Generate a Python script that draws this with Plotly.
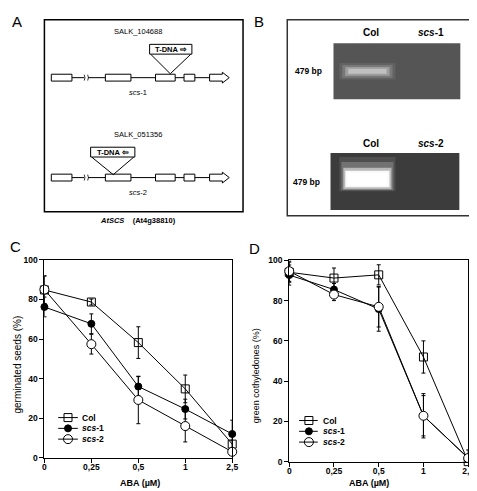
import plotly.graph_objects as go

W, H = 477, 491
FONT = "Liberation Sans, Arial, sans-serif"

# ---------------- data ----------------
aba_labels = ["0", "0,25", "0,5", "1", "2,5"]
aba_pos = [0, 1, 2, 3, 4]

germ_col = [84.8, 78.7, 58.2, 34.8, 6.9]
germ_col_err = [7, 1.5, 8, 7, 2]
germ_scs1 = [76.2, 67.7, 36.0, 24.6, 12.0]
germ_scs1_err = [5, 5, 5, 5, 7]
germ_scs2 = [85.0, 57.4, 29.2, 16.0, 3.0]
germ_scs2_err = [7, 5, 12, 8, 1]

green_col = [94.1, 91.2, 92.8, 52.0, 0.0]
green_col_err = [5, 5, 5, 8, 1]
green_scs1 = [92.7, 85.5, 75.8, 22.8, 1.8]
green_scs1_err = [5, 3, 11, 10, 4]
green_scs2 = [94.6, 83.0, 76.9, 22.8, 1.8]
green_scs2_err = [5, 3, 10, 11, 1]

series_names = ["Col", "<i>scs</i>-1", "<i>scs</i>-2"]
y_ticks = [0, 20, 40, 60, 80, 100]

# gene model (schematic, pixel units of the drawing layer)
exon_starts = [42, 97, 148, 177]
exon_ends = [63, 123, 168, 188]
last_exon = [203, 216, 223]
gene_rows_y = [66, 168]
tdna_boxes = [(142, 185, 32, 42, 163, 62, "T-DNA ⇨"), (82, 127, 137, 147, 105, 165, "T-DNA ⇦")]
salk_labels = ["SALK_104688", "SALK_051356"]
allele_labels = ["<i>scs</i>-1", "<i>scs</i>-2"]

styles = [
    dict(symbol="square-open", size=8, color="black", line=dict(width=1, color="black")),
    dict(symbol="circle", size=7, color="black", line=dict(width=1, color="black")),
    dict(symbol="circle", size=9, color="white", line=dict(width=1, color="black")),
]


def px(x):
    return x / W


def py(y):
    return 1 - y / H


fig = go.Figure()

# ---------------- panel C & D traces ----------------
panels = [
    ("x", "y", [germ_col, germ_scs1, germ_scs2], [germ_col_err, germ_scs1_err, germ_scs2_err]),
    ("x2", "y2", [green_col, green_scs1, green_scs2], [green_col_err, green_scs1_err, green_scs2_err]),
]
for xa, ya, vals, errs in panels:
    for i in range(3):
        fig.add_trace(go.Scatter(
            x=aba_pos, y=vals[i], xaxis=xa, yaxis=ya, mode="lines+markers",
            line=dict(color="black", width=1), marker=styles[i],
            error_y=dict(type="data", array=errs[i], color="black", thickness=1, width=2),
            showlegend=False, cliponaxis=False, name=series_names[i],
        ))

tickfont = dict(family=FONT, size=8.5, color="black")
ax_common = dict(showgrid=False, zeroline=False, showline=True, linecolor="black", linewidth=1,
                 mirror=True, ticks="outside", ticklen=4, tickwidth=1, tickcolor="black",
                 tickfont=tickfont)
fig.update_layout(
    xaxis=dict(domain=[px(35), px(226)], range=[0, 4], anchor="y", tickvals=aba_pos,
               ticktext=["<b>%s</b>" % t for t in aba_labels], ticklabelstandoff=-3, **ax_common),
    yaxis=dict(domain=[py(454), py(252)], range=[0, 100], anchor="x", tickvals=y_ticks,
               ticktext=["<b>%d</b>" % t for t in y_ticks], **ax_common),
    xaxis2=dict(domain=[px(284), px(466)], range=[0, 4], anchor="y2", tickvals=aba_pos,
                ticktext=["<b>%s</b>" % t for t in aba_labels], ticklabelstandoff=-3, **ax_common),
    yaxis2=dict(domain=[py(458), py(252.5)], range=[0, 100], anchor="x2", tickvals=y_ticks,
                ticktext=["<b>%d</b>" % t for t in y_ticks], **ax_common),
    xaxis3=dict(domain=[0, 1], range=[0, W], anchor="y3", visible=False, fixedrange=True),
    yaxis3=dict(domain=[0, 1], range=[H, 0], anchor="x3", visible=False, fixedrange=True),
)

shapes = []
ann = []


def text(x, y, t, size=8, xanchor="center", angle=0, color="black"):
    ann.append(dict(x=x, y=y, xref="x3", yref="y3", text=t, showarrow=False, xanchor=xanchor,
                    yanchor="middle", textangle=angle,
                    font=dict(family=FONT, size=size, color=color)))


def rect(x0, y0, x1, y1, fill="white", lc="black", lw=1):
    shapes.append(dict(type="rect", xref="x3", yref="y3", x0=x0, y0=y0, x1=x1, y1=y1,
                       fillcolor=fill, line=dict(color=lc, width=lw)))


def path(p, lc="black", lw=1, fill=None):
    d = dict(type="path", xref="x3", yref="y3", path=p, line=dict(color=lc, width=lw))
    if fill:
        d["fillcolor"] = fill
    shapes.append(d)


# ---------------- legends (manual) ----------------
legend_defs = [(49, 69, 59, 71, [413, 424, 435]), (294, 313, 304, 316, [416, 427, 438])]
for lx0, lx1, lxm, ltx, lys in legend_defs:
    for i in range(3):
        path("M %g,%g L %g,%g" % (lx0, lys[i], lx1, lys[i]))
        fig.add_trace(go.Scatter(x=[lxm], y=[lys[i]], xaxis="x3", yaxis="y3", mode="markers",
                                 marker=styles[i], showlegend=False, cliponaxis=False))
        text(ltx, lys[i], "<b>%s</b>" % series_names[i], size=8.5, xanchor="left")

# axis titles
text(8, 359, "germinated seeds (%)", size=10, angle=-90)
text(251, 370, "green cothyledones (%)", size=9, angle=-90)
text(132, 480, "<b>ABA (µM)</b>", size=9)
text(365, 480, "<b>ABA (µM)</b>", size=9)

# panel letters
text(7, 9, "A", size=15)
text(253, 9, "B", size=15)
text(6, 238, "C", size=15)
text(249, 240, "D", size=15)

# ---------------- panel A: gene schematic ----------------
rect(35, 7, 237, 203, fill="white", lc="black", lw=1.5)
for r, gy in enumerate(gene_rows_y):
    path("M %g,%g L %g,%g" % (exon_ends[0], gy, last_exon[0], gy))
    # intron break symbol
    rect(75.5, gy - 3, 79.5, gy + 3, fill="white", lc="white", lw=0)
    path("M 75.5,%g Q 77,%g 75.5,%g" % (gy - 3, gy, gy + 3), lw=0.8)
    path("M 79,%g Q 80.5,%g 79,%g" % (gy - 3, gy, gy + 3), lw=0.8)
    for s, e in zip(exon_starts, exon_ends):
        rect(s, gy - 3.5, e, gy + 3.5)
    a0, a1, a2 = last_exon
    path("M %g,%g L %g,%g L %g,%g L %g,%g L %g,%g L %g,%g L %g,%g Z" % (
        a0, gy - 3.5, a1, gy - 3.5, a1, gy - 5.5, a2, gy, a1, gy + 5.5, a1, gy + 3.5, a0, gy + 3.5),
        fill="white")
    bx0, bx1, by0, by1, tx, ty, lab = tdna_boxes[r]
    path("M %g,%g L %g,%g L %g,%g" % (bx0 + 1, by1, tx, ty, bx1 - 1, by1))
    rect(bx0, by0, bx1, by1)
    text((bx0 + bx1) / 2, (by0 + by1) / 2 + 0.5, "<b>%s</b>" % lab, size=7.5)
    text(130, by0 - 13, salk_labels[r], size=7.5)
    text(130, gy + 15, allele_labels[r], size=7.5)
text(130, 212, "<b><i>AtSCS</i></b>    <b>(At4g38810)</b>", size=7.5)

# ---------------- panel B: gel ----------------
rect(282, 7, 475, 207, fill="white", lc="#333333", lw=1.5)
rect(329, 31, 458, 88, fill="#555555", lc="#555555", lw=0)
rect(326, 143, 457, 201, fill="#3c3c3c", lc="#3c3c3c", lw=0)
# band 1 (faint)
for (x0, y0, x1, y1, a) in [(335, 51, 392, 68, 0.08), (338, 53, 389, 66, 0.15),
                            (341, 55, 386, 64, 0.28), (344, 57, 383, 62, 0.35)]:
    rect(x0, y0, x1, y1, fill="rgba(255,255,255,%g)" % a, lc="rgba(0,0,0,0)", lw=0)
# band 2 (bright)
for (x0, y0, x1, y1, a) in [(335, 147, 392, 182, 0.10), (337, 152, 390, 181, 0.2),
                            (339, 158, 388, 180, 0.5), (341, 161, 386, 178, 0.9),
                            (343, 163, 384, 176, 1.0)]:
    rect(x0, y0, x1, y1, fill="rgba(255,255,255,%g)" % a, lc="rgba(0,0,0,0)", lw=0)
text(367, 20, "<b>Col</b>", size=10)
text(428, 20, "<b><i>scs</i>-1</b>", size=10)
text(367, 133, "<b>Col</b>", size=10)
text(428, 133, "<b><i>scs</i>-2</b>", size=10)
text(304, 59, "<b>479 bp</b>", size=8.5)
text(302, 173, "<b>479 bp</b>", size=8.5)

fig.update_layout(shapes=shapes, annotations=ann, width=W, height=H,
                  margin=dict(l=0, r=0, t=0, b=0), paper_bgcolor="white",
                  plot_bgcolor="rgba(0,0,0,0)", showlegend=False)
fig.write_html("out.html")
